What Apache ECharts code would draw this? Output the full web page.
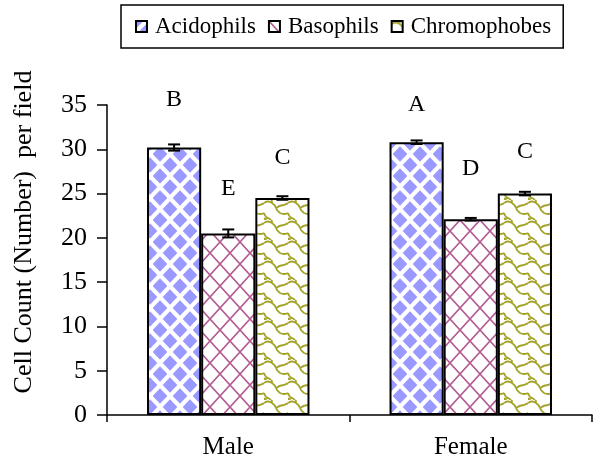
<!DOCTYPE html>
<html>
<head>
<meta charset="utf-8">
<script src="https://cdn.jsdelivr.net/npm/echarts@6/dist/echarts.min.js"></script>
<style>
html,body{margin:0;padding:0;background:#fff;}
#chart{width:593px;height:466px;}
</style>
</head>
<body>
<div id="chart"></div>
<script>
// ---- data ----
const categories = ['Male', 'Female'];
const seriesNames = ['Acidophils', 'Basophils', 'Chromophobes'];
const acidophils = [30.2, 30.8];
const basophils = [20.5, 22.1];
const chromophobes = [24.5, 25.0];
const acidophilsErr = [0.35, 0.2];
const basophilsErr = [0.45, 0.15];
const chromophobesErr = [0.2, 0.2];
const acidophilsLetters = ['B', 'A'];
const basophilsLetters = ['E', 'D'];
const chromophobesLetters = ['C', 'C'];
const acidophilsLetterY = [35.6, 35.0];
const basophilsLetterY = [25.6, 27.8];
const chromophobesLetterY = [29.0, 29.7];
const yTicks = [0, 5, 10, 15, 20, 25, 30, 35];

// ---- patterns ----
function tile(w, h, draw) {
  const c = document.createElement('canvas');
  c.width = w; c.height = h;
  const ctx = c.getContext('2d');
  ctx.fillStyle = '#fff';
  ctx.fillRect(0, 0, w, h);
  draw(ctx);
  return c;
}
const acidPat = tile(20, 22, ctx => {
  ctx.fillStyle = '#9999ff';
  const rx = 7.3, ry = 7.8;
  [[0,0],[20,0],[0,22],[20,22],[10,11]].forEach(([x,y]) => {
    ctx.beginPath();
    ctx.moveTo(x, y - ry); ctx.lineTo(x + rx, y); ctx.lineTo(x, y + ry); ctx.lineTo(x - rx, y);
    ctx.closePath(); ctx.fill();
  });
});
const basoPat = tile(20, 22, ctx => {
  ctx.strokeStyle = '#b35c92';
  ctx.lineWidth = 1.6;
  ctx.beginPath();
  ctx.moveTo(-2, -2.2); ctx.lineTo(22, 24.2);
  ctx.moveTo(22, -2.2); ctx.lineTo(-2, 24.2);
  ctx.stroke();
});
const chromoPat = tile(24, 20, ctx => {
  ctx.strokeStyle = '#a3a329';
  ctx.lineWidth = 1.8;
  ctx.beginPath();
  ctx.moveTo(0, 3); ctx.quadraticCurveTo(4, 0, 8, 3); ctx.quadraticCurveTo(11, 5, 12, 8);
  ctx.quadraticCurveTo(13, 11, 16, 13); ctx.quadraticCurveTo(20, 15, 24, 13);
  ctx.moveTo(12, 8); ctx.quadraticCurveTo(16, 5, 20, 5); ctx.quadraticCurveTo(23, 4, 24, 3);
  ctx.moveTo(0, 13); ctx.quadraticCurveTo(-3, 15, -4, 18);
  ctx.moveTo(0, 13); ctx.quadraticCurveTo(1, 17, 4, 18); ctx.quadraticCurveTo(7, 19, 8, 23);
  ctx.moveTo(0, 18); ctx.quadraticCurveTo(2, 20, 0, 23);
  ctx.moveTo(24, 13); ctx.quadraticCurveTo(25, 17, 28, 18);
  ctx.moveTo(8, 3); ctx.quadraticCurveTo(8, -1, 6, -3);
  ctx.moveTo(4, 18); ctx.quadraticCurveTo(0, 19, 0, 23);
  ctx.stroke();
});
const patterns = [acidPat, basoPat, chromoPat];
const values = [acidophils, basophils, chromophobes];
const errs = [acidophilsErr, basophilsErr, chromophobesErr];
const letters = [acidophilsLetters, basophilsLetters, chromophobesLetters];
const letterY = [acidophilsLetterY, basophilsLetterY, chromophobesLetterY];

const FONT = '"Liberation Serif", "Times New Roman", serif';
const CAT_GAP = 0.33;

const chart = echarts.init(document.getElementById('chart'), null, {renderer: 'canvas'});

const series = [];
seriesNames.forEach((name, i) => {
  series.push({
    name: name,
    type: 'bar',
    data: values[i],
    barGap: '0%',
    barCategoryGap: (CAT_GAP * 100) + '%',
    itemStyle: {
      color: {image: patterns[i], repeat: 'repeat'},
      borderColor: '#000',
      borderWidth: 2
    },
    emphasis: {disabled: true},
    z: 2
  });
});

// error bars + significance letters
seriesNames.forEach((name, i) => {
  const data = categories.map((c, k) => [k, values[i][k], errs[i][k], letterY[i][k]]);
  series.push({
    type: 'custom',
    name: name + '_err',
    data: data,
    z: 5,
    clip: false,
    silent: true,
    renderItem: function (params, api) {
      const k = api.value(0);
      const v = api.value(1);
      const e = api.value(2);
      const ly = api.value(3);
      const catW = api.size([1, 0])[0];
      const bw = catW * (1 - CAT_GAP) / 3;
      const cx = api.coord([k, 0])[0] + (i - 1) * bw;
      const yHi = api.coord([k, v + e])[1];
      const yLo = api.coord([k, v - e])[1];
      const yL = api.coord([k, ly])[1];
      const cap = 6;
      const st = {stroke: '#000', lineWidth: 2};
      return {
        type: 'group',
        children: [
          {type: 'line', shape: {x1: cx, y1: yHi, x2: cx, y2: yLo}, style: st},
          {type: 'line', shape: {x1: cx - cap, y1: yHi, x2: cx + cap, y2: yHi}, style: st},
          {type: 'line', shape: {x1: cx - cap, y1: yLo, x2: cx + cap, y2: yLo}, style: st},
          {type: 'text', style: {x: cx, y: yL, text: letters[i][k], textAlign: 'center', textVerticalAlign: 'middle',
            font: '24px ' + FONT, fill: '#000'}}
        ]
      };
    }
  });
});

chart.setOption({
  animation: false,
  backgroundColor: '#fff',
  grid: {left: 107, right: 1, top: 105, bottom: 51, containLabel: false},
  legend: {
    data: seriesNames,
    left: 121,
    top: 5,
    padding: [10, 12, 10, 14],
    borderColor: '#000',
    borderWidth: 1.5,
    itemWidth: 11,
    itemHeight: 11,
    itemGap: 12,
    icon: 'rect',
    textStyle: {fontFamily: FONT, fontSize: 23, color: '#000', padding: [0, 0, 0, 3]}
  },
  xAxis: {
    type: 'category',
    data: categories,
    axisLine: {lineStyle: {color: '#000', width: 1.5}},
    axisTick: {show: true, length: 7, lineStyle: {color: '#000', width: 1.5}},
    axisLabel: {fontFamily: FONT, fontSize: 25, color: '#000', margin: 20},
    splitLine: {show: false}
  },
  yAxis: {
    type: 'value',
    min: 0,
    max: 35,
    interval: 5,
    name: 'Cell Count (Number)  per field',
    nameLocation: 'middle',
    nameGap: 70,
    nameRotate: 90,
    nameTextStyle: {fontFamily: FONT, fontSize: 26, color: '#000', padding: [0, 0, 0, 56]},
    axisLine: {show: true, lineStyle: {color: '#000', width: 1.5}},
    axisTick: {show: true, length: 10, lineStyle: {color: '#000', width: 1.5}},
    axisLabel: {fontFamily: FONT, fontSize: 26, color: '#000', margin: 20,
      formatter: v => (yTicks.indexOf(v) >= 0 ? String(v) : '')},
    splitLine: {show: false}
  },
  series: series
});
</script>
</body>
</html>
